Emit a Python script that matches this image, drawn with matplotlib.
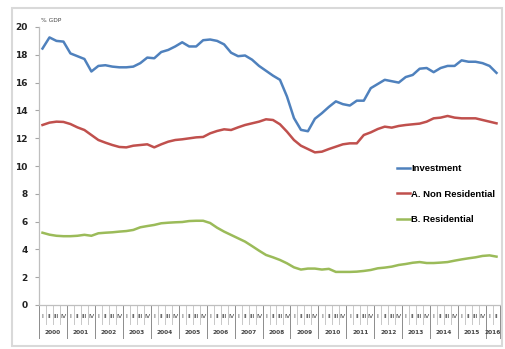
import matplotlib
matplotlib.use('Agg')
import matplotlib.pyplot as plt
from matplotlib.patches import Rectangle
import numpy as np

years = [str(y) for y in range(2000, 2017)]
quarters = ['I', 'II', 'III', 'IV']
n_quarters = 66  # 2000 Q1 .. 2016 Q2

investment = [18.45, 19.25, 19.0, 18.95, 18.1, 17.9, 17.7, 16.8, 17.2, 17.25,
              17.15, 17.1, 17.1, 17.15, 17.4, 17.8, 17.75, 18.2, 18.35, 18.6,
              18.9, 18.6, 18.6, 19.05, 19.1, 19.0, 18.75, 18.15, 17.9, 17.95,
              17.65, 17.2, 16.85, 16.5, 16.2, 15.0, 13.45, 12.6, 12.5, 13.4,
              13.8, 14.25, 14.65, 14.45, 14.35, 14.7, 14.7, 15.6, 15.9, 16.2,
              16.1, 16.0, 16.4, 16.55, 17.0, 17.05, 16.75, 17.05, 17.2, 17.2,
              17.6, 17.5, 17.5, 17.4, 17.2, 16.7]
non_residential = [12.95, 13.12, 13.19, 13.17, 13.02, 12.78, 12.59, 12.23, 11.87, 11.68,
                   11.51, 11.37, 11.34, 11.46, 11.51, 11.56, 11.34, 11.56, 11.75, 11.87,
                   11.92, 11.99, 12.06, 12.09, 12.35, 12.52, 12.64, 12.59, 12.78, 12.95,
                   13.07, 13.19, 13.36, 13.31, 13.0, 12.47, 11.87, 11.46, 11.22, 10.98,
                   11.03, 11.22, 11.39, 11.56, 11.63, 11.63, 12.23, 12.42, 12.66, 12.83,
                   12.76, 12.88, 12.95, 13.0, 13.05, 13.19, 13.43, 13.48, 13.6, 13.48,
                   13.43, 13.43, 13.43, 13.31, 13.19, 13.07]
residential = [5.2, 5.06, 4.98, 4.95, 4.95, 4.98, 5.05, 4.98, 5.16, 5.2,
               5.23, 5.28, 5.32, 5.4, 5.59, 5.68, 5.76, 5.88, 5.92, 5.95,
               5.97, 6.04, 6.06, 6.06, 5.9, 5.56, 5.28, 5.04, 4.8, 4.56,
               4.24, 3.91, 3.6, 3.43, 3.24, 3.0, 2.71, 2.55, 2.62, 2.62,
               2.55, 2.6, 2.38, 2.38, 2.38, 2.4, 2.45, 2.52, 2.64, 2.69,
               2.76, 2.88, 2.95, 3.04, 3.09, 3.02, 3.02, 3.05, 3.09, 3.19,
               3.28, 3.36, 3.43, 3.53, 3.57, 3.48]

W, H = 505, 349
fig = plt.figure(figsize=(W / 100, H / 100), dpi=100)
fig.patches.append(Rectangle((12 / W, 1 - 346 / H), 490 / W, 338 / H,
                             transform=fig.transFigure, fill=False,
                             edgecolor='#d9d9d9', linewidth=1.5))

ax_l, ax_r, ax_t, ax_b = 39, 500, 27, 305
ax = fig.add_axes([ax_l / W, 1 - ax_b / H, (ax_r - ax_l) / W, (ax_b - ax_t) / H])

x = np.arange(n_quarters) + 0.5
ax.plot(x, investment, color='#4f81bd', lw=1.8, label='Investment')
ax.plot(x, non_residential, color='#c0504d', lw=1.8, label='A. Non Residential')
ax.plot(x, residential, color='#9bbb59', lw=1.8, label='B. Residential')

ax.set_xlim(0, n_quarters)
ax.set_ylim(0, 20)
ax.set_yticks(range(0, 21, 2))
ax.tick_params(axis='y', length=3, color='#a6a6a6', labelsize=6.5, pad=5,
               labelcolor='#222222')
for lbl in ax.get_yticklabels():
    lbl.set_fontweight('bold')
ax.set_xticks([])
for side in ('top', 'right'):
    ax.spines[side].set_visible(False)
for side in ('left', 'bottom'):
    ax.spines[side].set_color('#bfbfbf')
    ax.spines[side].set_linewidth(0.9)

# two-level category axis: quarters above, years below
trans = ax.get_xaxis_transform()
ah = ax_b - ax_t
for i in range(n_quarters + 1):
    is_year = i % 4 == 0 or i == n_quarters
    depth = 33 if is_year else 19
    ax.plot([i, i], [0, -depth / ah], transform=trans, clip_on=False,
            color='#8c8c8c' if is_year else '#c8c8c8', lw=0.7)
for i in range(n_quarters):
    ax.text(i + 0.5, -11 / ah, quarters[i % 4], transform=trans,
            ha='center', va='center', fontsize=4.5, color='#333333')
for k, yr in enumerate(years):
    start = 4 * k
    end = min(start + 4, n_quarters)
    ax.text((start + end) / 2, -27 / ah, yr, transform=trans,
            ha='center', va='center', fontsize=4.2, color='#444444',
            fontweight='bold')

ax.text(2 / (ax_r - ax_l), 1 + 7 / ah, '% GDP', transform=ax.transAxes,
        fontsize=4.2, color='#444444', va='center', ha='left')

ax.legend(loc='upper left',
          bbox_to_anchor=((397 - ax_l) / (ax_r - ax_l), 1 - (164 - ax_t) / ah),
          frameon=False, handlelength=1.4, handletextpad=0.1,
          labelspacing=1.75, borderpad=0, borderaxespad=0,
          prop={'family': 'Liberation Sans', 'weight': 'bold', 'size': 6.8})

fig.savefig('out.png', dpi=100)
